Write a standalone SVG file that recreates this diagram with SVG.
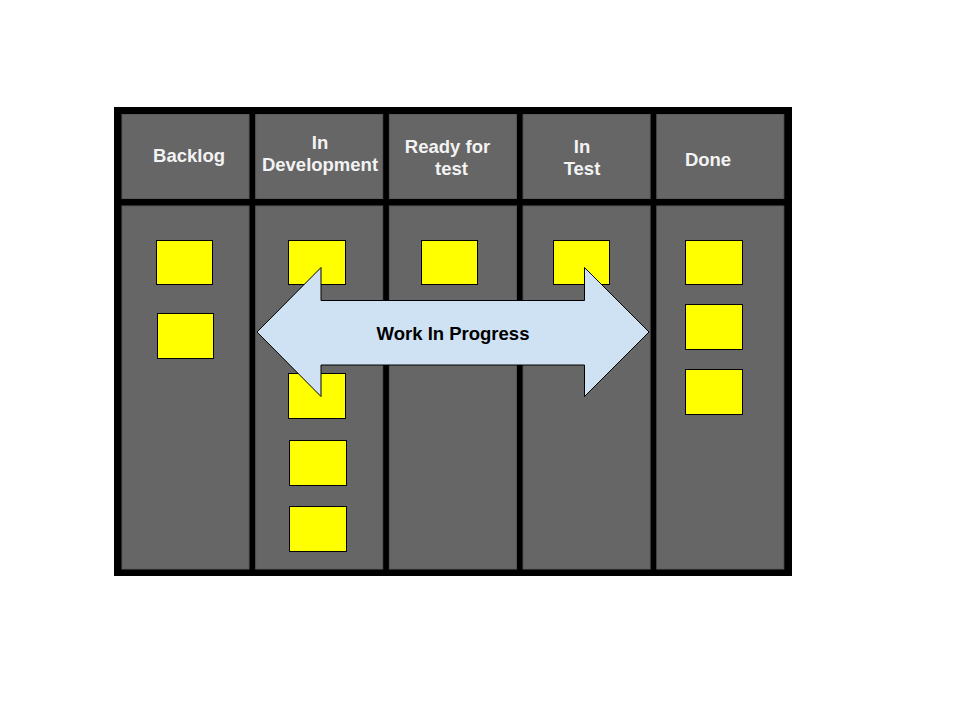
<svg xmlns="http://www.w3.org/2000/svg" width="960" height="720" viewBox="0 0 960 720">
<style>
.cell{fill:#666666;stroke:#5a5a5a;stroke-width:1}
.hd{fill:#f3f3f3;font-family:"Liberation Sans",Arial,sans-serif;font-weight:bold;font-size:18.5px;text-anchor:middle}
.card{fill:#ffff00;stroke:#000000;stroke-width:1}
.lbl{fill:#000000;font-family:"Liberation Sans",Arial,sans-serif;font-weight:bold;font-size:18.5px;text-anchor:middle}
</style>
<rect width="960" height="720" fill="#ffffff"/>
<g id="board">
<rect x="114" y="107" width="678" height="469" fill="#000000"/>
</g>
<g id="col-backlog">
<rect class="cell" x="122" y="114.5" width="127" height="84"/>
<rect class="cell" x="122" y="206" width="127" height="363"/>
<text class="hd" x="189" y="162">Backlog</text>
</g>
<g id="col-dev">
<rect class="cell" x="255.7" y="114.5" width="127" height="84"/>
<rect class="cell" x="255.7" y="206" width="127" height="363"/>
<text class="hd" x="320" y="149">In</text>
<text class="hd" x="320" y="171">Development</text>
</g>
<g id="col-ready">
<rect class="cell" x="389.4" y="114.5" width="127" height="84"/>
<rect class="cell" x="389.4" y="206" width="127" height="363"/>
<text class="hd" x="447.5" y="153">Ready for</text>
<text class="hd" x="451.5" y="175">test</text>
</g>
<g id="col-test">
<rect class="cell" x="523.1" y="114.5" width="127" height="84"/>
<rect class="cell" x="523.1" y="206" width="127" height="363"/>
<text class="hd" x="582" y="153">In</text>
<text class="hd" x="582" y="175">Test</text>
</g>
<g id="col-done">
<rect class="cell" x="656.8" y="114.5" width="127" height="84"/>
<rect class="cell" x="656.8" y="206" width="127" height="363"/>
<text class="hd" x="708" y="166">Done</text>
</g>
<g id="cards">
<rect class="card" x="156.5" y="240.5" width="56" height="44"/>
<rect class="card" x="157.5" y="313.5" width="56" height="45"/>
<rect class="card" x="288.5" y="240.5" width="57" height="44"/>
<rect class="card" x="288.5" y="373.5" width="57" height="45"/>
<rect class="card" x="289.5" y="440.5" width="57" height="45"/>
<rect class="card" x="289.5" y="506.5" width="57" height="45"/>
<rect class="card" x="421.5" y="240.5" width="56" height="44"/>
<rect class="card" x="553.5" y="240.5" width="56" height="44"/>
<rect class="card" x="685.5" y="240.5" width="57" height="44"/>
<rect class="card" x="685.5" y="304.5" width="57" height="45"/>
<rect class="card" x="685.5" y="369.5" width="57" height="45"/>
</g>
<g id="wip-arrow">
<polygon points="257,332 321,267.5 321,300.5 584.5,300.5 584.5,267.5 649,332 584.5,396.5 584.5,365 321,365 321,396.5" fill="#cfe2f3" stroke="#000000" stroke-width="1"/>
<text class="lbl" x="453" y="340">Work In Progress</text>
</g>
</svg>
